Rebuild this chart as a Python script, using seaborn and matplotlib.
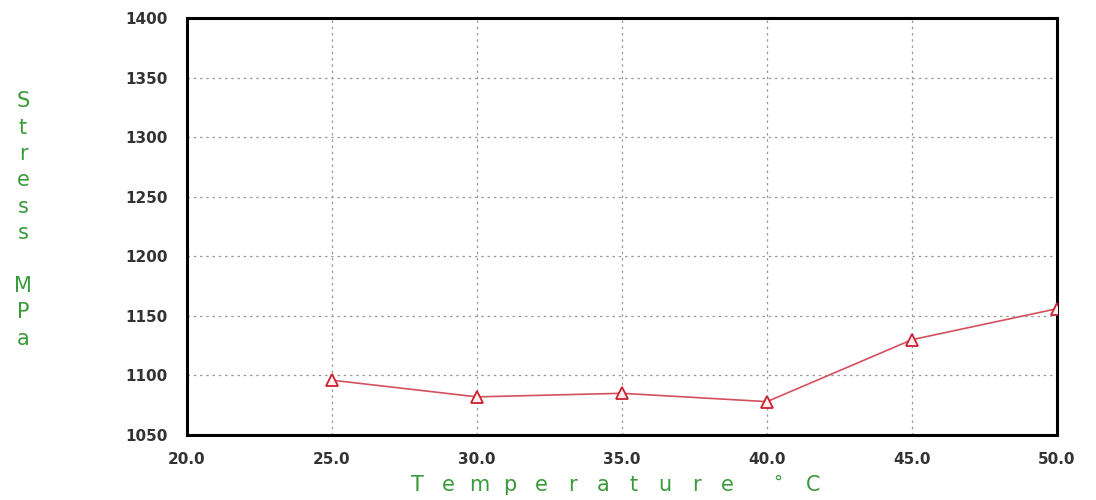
import matplotlib
matplotlib.use("Agg")
import matplotlib.pyplot as plt
import seaborn as sns
import pandas as pd

# Dados
temperatura = [25.0, 30.0, 35.0, 40.0, 45.0, 50.0]
tensao = [1096, 1082, 1085, 1078, 1130, 1156]
x_ticks = [20.0, 25.0, 30.0, 35.0, 40.0, 45.0, 50.0]
y_ticks = [1050, 1100, 1150, 1200, 1250, 1300, 1350, 1400]
rotulo_x = "Temperature °C"
rotulo_y = "Stress MPa"

sns.set_theme(style="white")
plt.rcParams['font.family'] = ['DejaVu Sans']

df = pd.DataFrame({"Temperature": temperatura, "Stress": tensao})

fig = plt.figure(figsize=(10.96, 5.0), dpi=100)
ax = fig.add_axes([0.1706, 0.13, 0.7938, 0.834])

sns.lineplot(data=df, x="Temperature", y="Stress", ax=ax, color="#d4505f",
             linewidth=1.2, marker="^", markersize=9,
             markerfacecolor="#fff0f0", markeredgecolor="#cc2030",
             markeredgewidth=1.3, zorder=3)

ax.set_xlim(20, 50)
ax.set_ylim(1050, 1400)
ax.set_xticks(x_ticks)
ax.set_yticks(y_ticks)
ax.set_xticklabels([f"{v:.1f}" for v in x_ticks])
ax.set_yticklabels([str(v) for v in y_ticks])
ax.tick_params(axis="both", length=0, labelsize=11, labelcolor="#333333")
ax.tick_params(axis="x", pad=12)
ax.tick_params(axis="y", pad=14)
for lab in ax.get_xticklabels() + ax.get_yticklabels():
    lab.set_fontweight("bold")

ax.grid(True, color="#9a9a9a", linestyle=(0, (2, 3)), linewidth=0.9)
for s in ax.spines.values():
    s.set_color("black")
    s.set_linewidth(2.2)

ax.set_xlabel("")
ax.set_ylabel("")

verde = "#3a9a3a"
# rótulo do eixo x com letras espaçadas
passo = 31 / 1096
x0 = 417 / 1096
for i, ch in enumerate(rotulo_x.replace(" °C", "")):
    fig.text(x0 + i * passo, 0.03, ch, ha="center", va="center",
             fontsize=15, color=verde)
fig.text(778 / 1096, 0.035, "°", ha="center", va="center", fontsize=13, color=verde)
fig.text(813 / 1096, 0.03, "C", ha="center", va="center", fontsize=15, color=verde)

# rótulo do eixo y com letras empilhadas
fig.text(0.021, 0.56, "\n".join(rotulo_y), ha="center", va="center",
         fontsize=15, color=verde, linespacing=1.4)

fig.savefig("out.png", dpi=100)
